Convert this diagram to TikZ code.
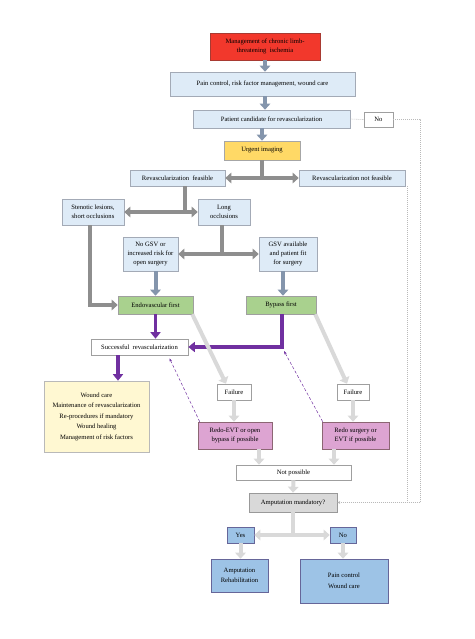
\documentclass[tikz,border=0pt]{standalone}
\usepackage{fontspec}
\setmainfont{Liberation Serif}
\usetikzlibrary{arrows.meta}

\definecolor{boxblue}{HTML}{DEEBF7}
\definecolor{boxline}{HTML}{A3AAB6}
\definecolor{cred}{HTML}{F2382C}
\definecolor{credline}{HTML}{A83A32}
\definecolor{cyellow}{HTML}{FFD966}
\definecolor{cgreen}{HTML}{A9D18E}
\definecolor{cpink}{HTML}{DDA4D2}
\definecolor{cblue}{HTML}{9DC3E6}
\definecolor{cpale}{HTML}{FFF8D2}
\definecolor{steel}{HTML}{8495AC}
\definecolor{midgray}{HTML}{8E8E8E}
\definecolor{lightgray}{HTML}{D9D9D9}
\definecolor{purp}{HTML}{7030A0}

\tikzset{
  box/.style={draw=boxline, fill=boxblue, line width=0.6pt, inner sep=1pt, align=center,
    font=\fontsize{6.6}{9}\selectfont},
  plain/.style={box, fill=white, draw=gray!75},
  blockarr/.style={draw=#1, line width=4pt, -{Triangle[width=10.5pt,length=6pt]}},
  blockline/.style={draw=#1, line width=4pt},
  purparr/.style={draw=purp, line width=3.4pt, -{Triangle[width=10pt,length=6.5pt]}},
  backarr/.style={draw=purp, densely dashed, line width=0.5pt, -{Stealth[length=3.5pt,width=2.5pt]}},
  dotline/.style={draw=gray!55, line width=0.6pt, dash pattern=on 1pt off 1pt}
}

\begin{document}
\begin{tikzpicture}[x=1pt,y=-1pt]
  \useasboundingbox (0,0) rectangle (474,639);
  % upper part
  \node[box, fill=cred, draw=credline, minimum width=110pt, minimum height=27pt] (mgmt) at (265,46.5)
    {Management of chronic limb-\\threatening\ \ ischemia};
  \node[box, minimum width=185pt, minimum height=24pt] (pain) at (262.5,84)
    {Pain control, risk factor management, wound care};
  \node[box, minimum width=157pt, minimum height=18pt] (cand) at (271.5,119)
    {Patient candidate for revascularization};
  \node[plain, minimum width=29pt, minimum height=15pt] (nobox) at (378.5,119.5) {No};
  \node[box, fill=cyellow, draw=gray!70, minimum width=76pt, minimum height=19pt] (urgent) at (262,150.5)
    {Urgent imaging};
  \node[box, minimum width=95pt, minimum height=16pt] (feas) at (177.5,178) {Revascularization\ \ feasible};
  \node[box, minimum width=106pt, minimum height=16pt] (notfeas) at (352,178) {Revascularization not feasible};
  \node[box, minimum width=62pt, minimum height=26pt] (steno) at (93,212) {Stenotic lesions,\\short occlusions};
  \node[box, minimum width=52pt, minimum height=26pt] (long) at (224,212) {Long\\occlusions};
  \node[box, minimum width=55pt, minimum height=34pt] (nogsv) at (150.5,254)
    {No GSV or\\increased risk for\\open surgery};
  \node[box, minimum width=58pt, minimum height=34pt] (gsv) at (288,254)
    {GSV available\\and patient fit\\for surgery};
  \node[box, fill=cgreen, draw=gray!75, minimum width=75pt, minimum height=18pt] (endo) at (155.5,305)
    {Endovascular first};
  \node[box, fill=cgreen, draw=gray!75, minimum width=70pt, minimum height=18pt] (bypass) at (281,305)
    {Bypass first};
  % lower part
  \node[plain, minimum width=97pt, minimum height=16pt] (succ) at (139.5,347) {Successful\ \ revascularization};
  \node[box, fill=cpale, draw=gray!55, minimum width=105pt, minimum height=71pt,
    font=\fontsize{6.6}{10.5}\selectfont] (wound) at (96.5,416.5)
    {Wound care\\Maintenance of revascularization\\Re-procedures if mandatory\\Wound healing\\Management of risk factors};
  \node[plain, minimum width=34pt, minimum height=16pt] (fail1) at (234,392) {Failure};
  \node[plain, minimum width=32pt, minimum height=16pt] (fail2) at (353,392) {Failure};
  \node[box, fill=cpink, draw=gray!80!purple, minimum width=74pt, minimum height=27pt] (redoevt) at (235,435.5)
    {Redo-EVT or open\\bypass if possible};
  \node[box, fill=cpink, draw=gray!80!purple, minimum width=67pt, minimum height=27pt] (redosurg) at (355.5,435.5)
    {Redo surgery or\\EVT if possible};
  \node[plain, minimum width=115pt, minimum height=15pt] (notposs) at (293.5,472.5) {Not possible};
  \node[box, fill=lightgray, draw=gray!80, minimum width=88pt, minimum height=19pt] (ampmand) at (293,502.5)
    {Amputation mandatory?};
  \node[box, fill=cblue, draw=gray!80!blue, minimum width=27pt, minimum height=16pt] (yes) at (240.5,535) {Yes};
  \node[box, fill=cblue, draw=gray!80!blue, minimum width=26pt, minimum height=16pt] (no) at (343,535) {No};
  \node[box, fill=cblue, draw=gray!80!blue, minimum width=57pt, minimum height=33pt,
    font=\fontsize{6.6}{10.5}\selectfont] (amprehab) at (239.5,575.5) {Amputation\\Rehabilitation};
  \node[box, fill=cblue, draw=gray!80!blue, minimum width=88pt, minimum height=44pt,
    font=\fontsize{6.6}{11}\selectfont] (paincare) at (344,581) {Pain control\\Wound care};

  % junctions
  \coordinate (j1) at (262,178);
  \coordinate (j2) at (185,212);
  \coordinate (j3) at (222,254);
  \coordinate (j4) at (293,535);
  \coordinate (byptip) at (284,351);

  % steel and gray arrows
  \draw[blockarr=steel] (mgmt.south) -- (mgmt.south |- pain.north);
  \draw[blockarr=steel] (mgmt.south |- pain.south) -- (mgmt.south |- cand.north);
  \draw[blockarr=steel] (cand.south -| urgent.north) -- (urgent.north);
  \draw[blockline=midgray] (urgent.south) -- (j1);
  \draw[blockarr=midgray] (j1) -- (feas.east);
  \draw[blockarr=midgray] (j1) -- (notfeas.west);
  \draw[blockline=midgray] (feas.south -| j2) -- (j2);
  \draw[blockarr=midgray] (j2) -- (steno.east);
  \draw[blockarr=midgray] (j2) -- (long.west);
  \draw[blockline=midgray] (long.south -| j3) -- (j3);
  \draw[blockarr=midgray] (j3) -- (nogsv.east);
  \draw[blockarr=midgray] (j3) -- (gsv.west);
  \draw[blockarr=midgray] ([xshift=-3pt]steno.south) |- (endo.west);
  \draw[blockarr=steel] (endo.north |- nogsv.south) -- (endo.north);
  \draw[blockarr=steel] ([xshift=2pt]bypass.north |- gsv.south) -- ([xshift=2pt]bypass.north);

  % purple arrows
  \draw[purparr] (endo.south) -- (endo.south |- succ.north);
  \draw[purparr] ([xshift=1pt]bypass.south) |- (succ.east);
  \draw[purparr] ([xshift=-21.5pt]succ.south) -- ([xshift=-21.5pt]succ.south |- wound.north);

  % light gray arrows
  \draw[blockarr=lightgray] ([xshift=-1pt]endo.south east) -- ([xshift=-8pt]fail1.north);
  \draw[blockarr=lightgray] ([xshift=-1pt]bypass.south east) -- ([xshift=-6pt]fail2.north);
  \draw[blockarr=lightgray] (fail1.south) -- (fail1.south |- redoevt.north);
  \draw[blockarr=lightgray] (fail2.south) -- (fail2.south |- redosurg.north);
  \draw[blockarr=lightgray] ([xshift=24pt]redoevt.south) -- ([xshift=24pt]redoevt.south |- notposs.north);
  \draw[blockarr=lightgray] ([xshift=-21.5pt]redosurg.south) -- ([xshift=-21.5pt]redosurg.south |- notposs.north);
  \draw[blockarr=lightgray] (notposs.south) -- (ampmand.north);
  \draw[blockline=lightgray] (ampmand.south) -- (j4);
  \draw[blockarr=lightgray] (j4) -- (yes.east);
  \draw[blockarr=lightgray] (j4) -- (no.west);
  \draw[blockarr=lightgray] (yes.south) -- (yes.south |- amprehab.north);
  \draw[blockarr=lightgray] (no.south) -- (no.south |- paincare.north);

  % back arrows and dotted path
  \draw[backarr] ([xshift=2pt]redoevt.north west) -- ([xshift=30pt,yshift=-3pt]succ.south);
  \draw[backarr] ([xshift=1pt]redosurg.north west) -- (byptip);
  \draw[dotline] (cand.east) -- (nobox.west);
  \draw[dotline] (nobox.east) -- ++(27,0) coordinate (k1) -- (k1 |- ampmand.east);
  \draw[dotline] ([xshift=2pt]notfeas.south east) -- ([xshift=2pt]notfeas.south east |- ampmand.east);
  \draw[dotline, -{Stealth[length=3pt,width=3pt]}] (k1 |- ampmand.east) -- (ampmand.east);
\end{tikzpicture}
\end{document}
